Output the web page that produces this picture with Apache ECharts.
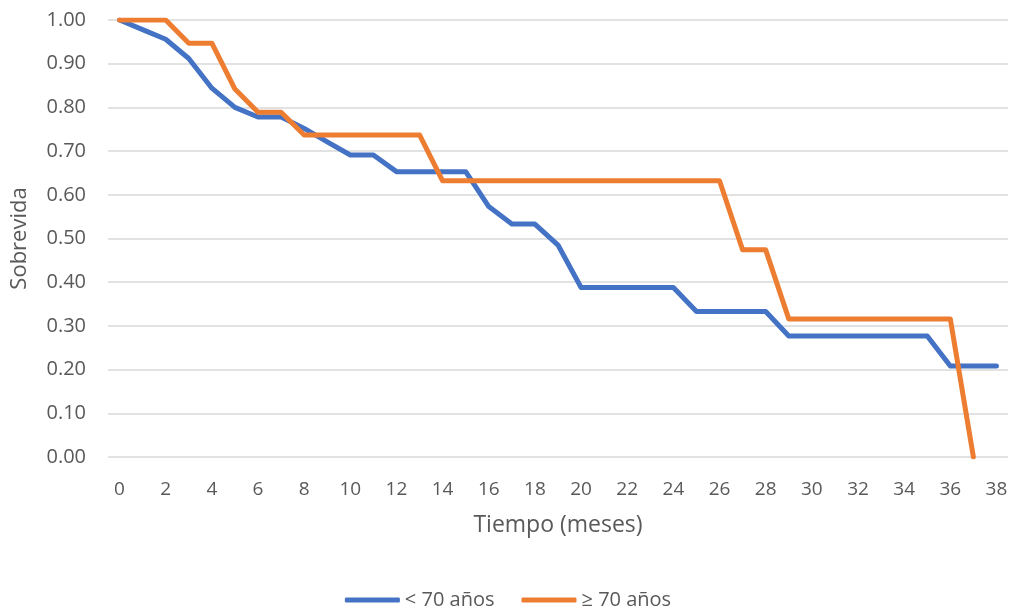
<!DOCTYPE html>
<html>
<head>
<meta charset="utf-8">
<script src="https://cdn.jsdelivr.net/npm/echarts@6/dist/echarts.min.js"></script>
<style>
html,body{margin:0;padding:0;background:#fff;}
#chart{width:1016px;height:609px;}
</style>
</head>
<body>
<div id="chart"></div>
<script>
const months = ['0','1','2','3','4','5','6','7','8','9','10','11','12','13','14','15','16','17','18','19','20','21','22','23','24','25','26','27','28','29','30','31','32','33','34','35','36','37','38'];
const under70 = [1.00,0.978,0.956,0.912,0.844,0.800,0.778,0.778,0.752,0.721,0.691,0.691,0.653,0.653,0.653,0.653,0.573,0.533,0.533,0.485,0.388,0.388,0.388,0.388,0.388,0.333,0.333,0.333,0.333,0.277,0.277,0.277,0.277,0.277,0.277,0.277,0.208,0.208,0.208];
const over70 = [1.00,1.00,1.00,0.947,0.947,0.842,0.789,0.789,0.737,0.737,0.737,0.737,0.737,0.737,0.632,0.632,0.632,0.632,0.632,0.632,0.632,0.632,0.632,0.632,0.632,0.632,0.632,0.474,0.474,0.316,0.316,0.316,0.316,0.316,0.316,0.316,0.316,0.00,null];
const seriesNames = ['< 70 años','≥ 70 años'];
const xTitle = 'Tiempo (meses)';
const yTitle = 'Sobrevida';

const font = 'Open Sans';
const chart = echarts.init(document.getElementById('chart'));
chart.setOption({
  animation:false,
  textStyle:{fontFamily:font},
  grid:{left:108,right:8,top:20,bottom:152,containLabel:false},
  legend:{
    top:585,left:'center',
    icon:'roundRect',itemWidth:55,itemHeight:5,itemGap:27,
    textStyle:{fontFamily:font,fontSize:20,color:'#595959'},
    data:seriesNames
  },
  xAxis:{
    type:'category',data:months,boundaryGap:true,
    name:xTitle,nameLocation:'middle',nameGap:57,
    nameTextStyle:{fontFamily:font,fontSize:23,color:'#595959'},
    axisLine:{show:false},axisTick:{show:false},
    axisLabel:{interval:1,margin:23,fontFamily:font,fontSize:19,color:'#595959'},
    splitLine:{show:false}
  },
  yAxis:{
    type:'value',min:0,max:1,interval:0.1,
    name:yTitle,nameLocation:'middle',nameGap:77,nameRotate:90,
    nameTextStyle:{fontFamily:font,fontSize:22,color:'#595959'},
    axisLine:{show:false},axisTick:{show:false},
    axisLabel:{margin:22,fontFamily:font,fontSize:20,color:'#595959',formatter:v=>v.toFixed(2)},
    splitLine:{lineStyle:{color:'#d9d9d9',width:1.5}}
  },
  series:[
    {name:seriesNames[0],type:'line',data:under70,showSymbol:false,symbol:'none',
     lineStyle:{color:'#4472C4',width:5,cap:'round',join:'round'},itemStyle:{color:'#4472C4'}},
    {name:seriesNames[1],type:'line',data:over70,showSymbol:false,symbol:'none',
     lineStyle:{color:'#ED7D31',width:5,cap:'round',join:'round'},itemStyle:{color:'#ED7D31'}}
  ]
});
</script>
</body>
</html>
